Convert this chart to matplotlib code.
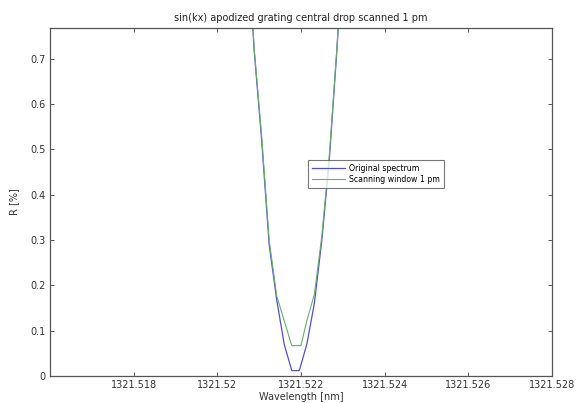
import matplotlib.pyplot as plt

# --- data ---
wl_orig = [1321.52052, 1321.52070, 1321.52088, 1321.52106, 1321.52124, 1321.52142,
           1321.52160, 1321.52178, 1321.52196, 1321.52214, 1321.52232, 1321.52250,
           1321.52268, 1321.52286, 1321.52304, 1321.52322]
r_orig = [1.30, 1.00, 0.72, 0.521, 0.29, 0.168,
          0.07, 0.012, 0.012, 0.07, 0.16, 0.30,
          0.48, 0.72, 1.00, 1.30]

wl_scan = [1321.52052, 1321.52070, 1321.52088, 1321.52106, 1321.52124, 1321.52142,
           1321.52160, 1321.52178, 1321.52200, 1321.52214, 1321.52232, 1321.52250,
           1321.52268, 1321.52286, 1321.52304, 1321.52322]
r_scan = [1.30, 1.00, 0.725, 0.53, 0.30, 0.177,
          0.122, 0.067, 0.067, 0.122, 0.18, 0.31,
          0.49, 0.725, 1.00, 1.30]

x_ticks = [1321.518, 1321.520, 1321.522, 1321.524, 1321.526, 1321.528]
x_tick_labels = ['1321.518', '1321.52', '1321.522', '1321.524', '1321.526', '1321.528']
y_ticks = [0, 0.1, 0.2, 0.3, 0.4, 0.5, 0.6, 0.7]
y_tick_labels = ['0', '0.1', '0.2', '0.3', '0.4', '0.5', '0.6', '0.7']

fig = plt.figure(figsize=(5.81, 4.03), dpi=100)
ax = fig.add_axes([0.086, 0.067, 0.864, 0.8635])

ax.plot(wl_orig, r_orig, color='#4f4fd8', lw=0.9, label='Original spectrum')
ax.plot(wl_scan, r_scan, color='#6aae6a', lw=0.8, label='Scanning window 1 pm')

ax.set_xlim(1321.516, 1321.528)
ax.set_ylim(0, 0.768)
ax.set_xticks(x_ticks)
ax.set_xticklabels(x_tick_labels)
ax.set_yticks(y_ticks)
ax.set_yticklabels(y_tick_labels)

grey = '#555555'
for s in ax.spines.values():
    s.set_color(grey)
    s.set_linewidth(0.9)
ax.tick_params(direction='in', top=True, right=True, length=3, width=0.7,
               colors=grey, labelsize=7, labelcolor='#333333', pad=3)

ax.set_title('sin(kx) apodized grating central drop scanned 1 pm', fontsize=7, color='#222222', pad=5)
ax.set_xlabel('Wavelength [nm]', fontsize=7, color='#333333', labelpad=1)
ax.set_ylabel('R [%]', fontsize=7, color='#333333', labelpad=8)

leg = ax.legend(loc='upper left', bbox_to_anchor=(0.514, 0.62), fontsize=5.6,
                frameon=True, fancybox=False, handlelength=4.2, handletextpad=0.6,
                borderpad=0.5, labelspacing=0.25, borderaxespad=0)
leg.get_frame().set_edgecolor(grey)
leg.get_frame().set_linewidth(0.8)

fig.savefig('out.png', dpi=100)
